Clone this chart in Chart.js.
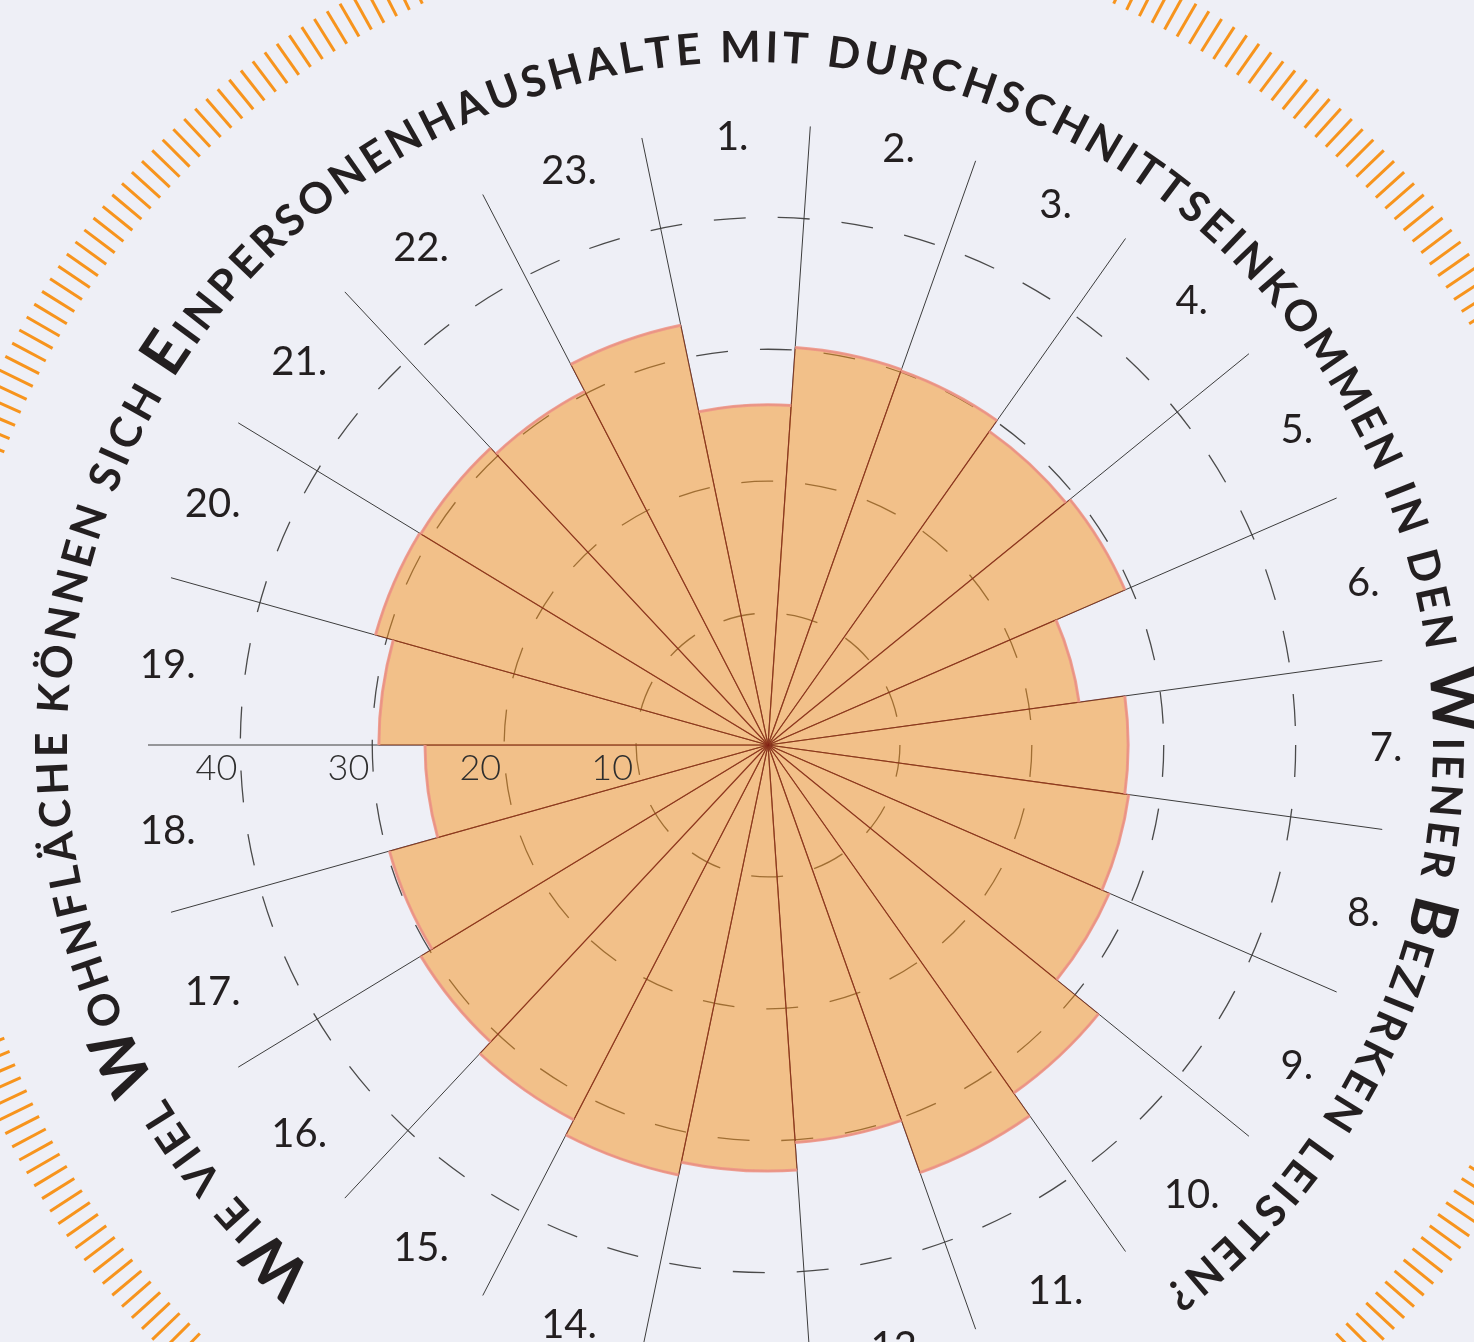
<!DOCTYPE html>
<html lang="de">
<head>
<meta charset="utf-8">
<title>Wohnfläche Einpersonenhaushalte Wien</title>
<script src="https://cdn.jsdelivr.net/npm/chart.js@4.4.1/dist/chart.umd.min.js"></script>
<style>
  html, body { margin: 0; padding: 0; overflow: hidden; background: #eeeff6; }
  #wrap { position: relative; width: 1474px; height: 1490px; }
</style>
</head>
<body>
<div id="wrap"><canvas id="polarChart"></canvas></div>
<script>
// Bezirke 1.-23. (im Uhrzeigersinn)
const districts = ['1.', '2.', '3.', '4.', '5.', '6.', '7.', '8.', '9.', '10.', '11.', '12.',
                   '13.', '14.', '15.', '16.', '17.', '18.', '19.', '20.', '21.', '22.', '23.'];
// leistbare Wohnfläche in m²
const wohnflaeche = [25.8, 30.2, 30.1, 29.1, 29.5, 23.8, 27.3, 27.6, 28.2, 32.3, 34.4, 30.2,
                     32.3, 33.3, 32.0, 30.8, 29.8, 26.0, 29.5, 30.9, 30.8, 30.2, 32.5];
const radialTicks = [10, 20, 30, 40];
const radialMax = 47;

const titleText = 'Wie viel Wohnfläche können sich Einpersonenhaushalte mit Durchschnittseinkommen in den Wiener Bezirken leisten?';
const bigInitials = ['Wie', 'Wohnfläche', 'Einpersonenhaushalte', 'Wiener', 'Bezirken'];

const INK = '#231f20';
const FONT = 'Lato, "Open Sans", sans-serif';

// district 19 starts exactly at 9 o'clock
const startAngle = 270 - 18 * 360 / districts.length;

// orange tick ring round the whole chart
const ringPlugin = {
    id: 'ring',
    beforeDraw(chart) {
        const s = chart.scales.r;
        const ctx = chart.ctx;
        ctx.save();
        ctx.strokeStyle = '#f7941d';
        ctx.lineWidth = 3;
        for (let i = 0; i < 360; i++) {
            const a = i * Math.PI / 180;
            ctx.beginPath();
            ctx.moveTo(s.xCenter + 818 * Math.sin(a), s.yCenter - 818 * Math.cos(a));
            ctx.lineTo(s.xCenter + 856 * Math.sin(a), s.yCenter - 856 * Math.cos(a));
            ctx.stroke();
        }
        ctx.restore();
    }
};

// light salmon rim on the outer edge of every sector
const rimPlugin = {
    id: 'rim',
    afterDatasetsDraw(chart) {
        const ctx = chart.ctx;
        ctx.save();
        ctx.strokeStyle = 'rgba(238, 150, 135, 0.9)';
        ctx.lineWidth = 3;
        chart.getDatasetMeta(0).data.forEach(arc => {
            const p = arc.getProps(['x', 'y', 'startAngle', 'endAngle', 'outerRadius'], true);
            ctx.beginPath();
            ctx.arc(p.x, p.y, p.outerRadius, p.startAngle, p.endAngle);
            ctx.stroke();
        });
        ctx.restore();
    }
};

// curved title, small caps with big initials
function drawArcTitle(ctx, cx, cy, r, fromDeg, toDeg) {
    const chars = [];
    titleText.split(' ').forEach((word, wi) => {
        if (wi > 0) chars.push({ ch: ' ', big: false });
        const isBig = bigInitials.includes(word);
        word.toUpperCase().split('').forEach((ch, ci) => chars.push({ ch, big: isBig && ci === 0 }));
    });
    const small = `700 43px ${FONT}`;
    const big = `700 62px ${FONT}`;
    let total = 0;
    chars.forEach(c => {
        ctx.font = c.big ? big : small;
        c.w = ctx.measureText(c.ch).width;
        total += c.w;
    });
    const span = (toDeg - fromDeg) * Math.PI / 180;
    const gap = (r * span - total) / (chars.length - 1);
    let pos = 0;
    ctx.fillStyle = INK;
    ctx.textAlign = 'center';
    ctx.textBaseline = 'alphabetic';
    chars.forEach(c => {
        const a = fromDeg * Math.PI / 180 + (pos + c.w / 2) / r;
        ctx.save();
        ctx.translate(cx + r * Math.sin(a), cy - r * Math.cos(a));
        ctx.rotate(a);
        ctx.font = c.big ? big : small;
        ctx.fillText(c.ch, 0, 0);
        ctx.restore();
        pos += c.w + gap;
    });
}

const labelsPlugin = {
    id: 'labels',
    afterDraw(chart) {
        const s = chart.scales.r;
        const ctx = chart.ctx;
        ctx.save();

        // district numbers in the middle of each sector
        const labelDist = s.getDistanceFromCenterForValue(radialMax) - 8;
        ctx.fillStyle = INK;
        ctx.font = `400 40px ${FONT}`;
        ctx.textAlign = 'center';
        ctx.textBaseline = 'middle';
        districts.forEach((d, i) => {
            const p = s.getPointPosition(i + 0.5, labelDist);
            ctx.fillText(d, p.x + 6, p.y + 3);
        });

        // radial tick values along the 9 o'clock line
        ctx.fillStyle = '#2e2e2e';
        ctx.font = `300 36px ${FONT}`;
        ctx.textAlign = 'right';
        ctx.textBaseline = 'alphabetic';
        radialTicks.forEach(v => {
            const d = s.getDistanceFromCenterForValue(v);
            ctx.fillText(String(v), s.xCenter - d - 3, s.yCenter + 35);
        });

        drawArcTitle(ctx, s.xCenter - 18, s.yCenter, 683, -140.4, 142.8);
        ctx.restore();
    }
};

const ctx = document.getElementById('polarChart');
new Chart(ctx, {
    type: 'polarArea',
    data: {
        labels: districts,
        datasets: [{
            label: 'Wohnfläche (m²)',
            data: wohnflaeche,
            backgroundColor: 'rgba(245, 145, 28, 0.5)',
            borderColor: 'rgba(130, 35, 25, 0.55)',
            borderWidth: 1.2
        }]
    },
    options: {
        responsive: true,
        maintainAspectRatio: false,
        animation: false,
        layout: { padding: { left: 148, right: 86, top: 125, bottom: 125 } },
        scales: {
            r: {
                min: 0,
                max: radialMax,
                startAngle: startAngle,
                ticks: { display: false, stepSize: 10 },
                pointLabels: { display: false },
                angleLines: { display: true, color: '#3c3c3c', lineWidth: 1 },
                grid: {
                    circular: true,
                    lineWidth: 1.3,
                    color: (c) => radialTicks.includes(c.tick && c.tick.value) ? '#4a4a4a' : 'transparent'
                },
                border: { dash: [32, 32] }
            }
        },
        plugins: {
            legend: { display: false },
            tooltip: { enabled: false }
        }
    },
    plugins: [ringPlugin, rimPlugin, labelsPlugin]
});
</script>
</body>
</html>
